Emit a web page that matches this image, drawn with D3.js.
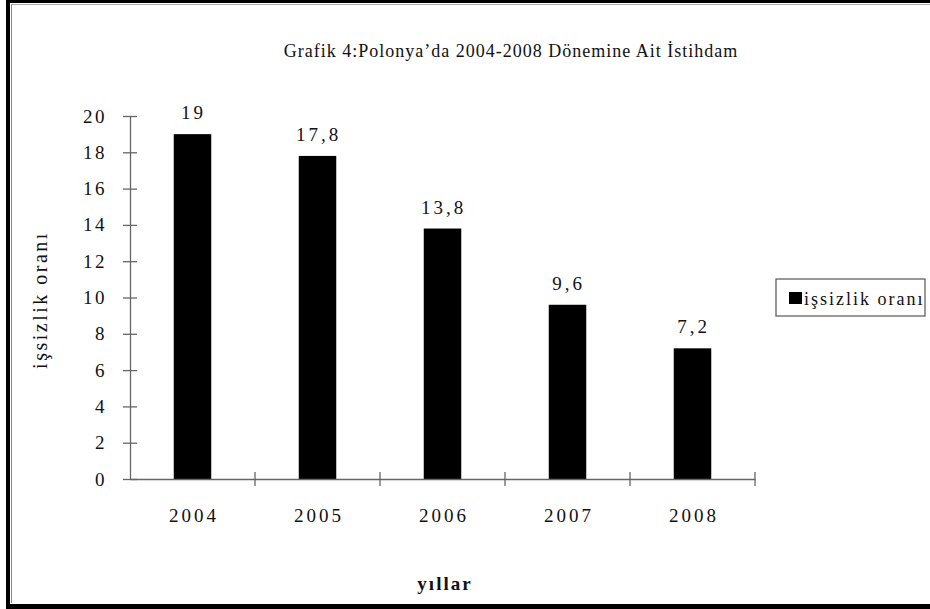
<!DOCTYPE html>
<html lang="tr">
  <head>
    <meta charset="UTF-8" />
    <title>Grafik 4</title>
    <script src="https://d3js.org/d3.v7.min.js"></script>
    <style>
      body { margin: 0; background: #fff; }
      svg text { font-family: "Liberation Serif", "DejaVu Serif", serif; fill: #111; }
      .axis path, .axis line { stroke: #666; stroke-width: 1.3; }
    </style>
  </head>
  <body>
    <svg id="chart" width="930" height="609"></svg>
    <script>
      // chart data
      var years = ["2004", "2005", "2006", "2007", "2008"];
      var rates = [19, 17.8, 13.8, 9.6, 7.2];
      var yTicks = [0, 2, 4, 6, 8, 10, 12, 14, 16, 18, 20];
      var title = "Grafik 4:Polonya\u2019da 2004-2008 Dönemine Ait İstihdam";
      var seriesName = "işsizlik oranı";
      var xTitle = "yıllar";

      var svg = d3.select("#chart");
      var margin = { left: 130, right: 175, top: 116, bottom: 130 };
      var width = 930 - margin.left - margin.right,
        height = 609 - margin.top - margin.bottom;

      // outer frame
      svg.append("rect").attr("x", 6).attr("y", 0).attr("width", 4).attr("height", 609).attr("fill", "#000");
      svg.append("rect").attr("x", 6).attr("y", 0).attr("width", 924).attr("height", 3).attr("fill", "#000");
      svg.append("rect").attr("x", 6).attr("y", 604).attr("width", 924).attr("height", 5).attr("fill", "#000");
      svg.append("line").attr("x1", 11.5).attr("x2", 11.5).attr("y1", 4).attr("y2", 603)
        .attr("stroke", "#888").attr("stroke-width", 1);
      svg.append("line").attr("x1", 11).attr("x2", 930).attr("y1", 4.5).attr("y2", 4.5)
        .attr("stroke", "#aaa").attr("stroke-width", 1);

      var g = svg.append("g").attr("transform", "translate(" + margin.left + "," + margin.top + ")");

      var x = d3.scaleBand().domain(years).range([0, width]).paddingInner(0.7).paddingOuter(0.35);
      var y = d3.scaleLinear().domain([0, 20]).range([height, 0]);

      // bars
      g.selectAll(".bar")
        .data(years)
        .enter()
        .append("rect")
        .attr("class", "bar")
        .attr("x", function (d) { return x(d); })
        .attr("y", function (d, i) { return y(rates[i]); })
        .attr("width", x.bandwidth())
        .attr("height", function (d, i) { return height - y(rates[i]); })
        .attr("fill", "#000");

      // value labels
      g.selectAll(".val")
        .data(years)
        .enter()
        .append("text")
        .attr("x", function (d) { return x(d) + x.bandwidth() / 2 + 1; })
        .attr("y", function (d, i) { return y(rates[i]) - 15; })
        .attr("text-anchor", "middle")
        .style("font-size", "19px")
        .style("letter-spacing", "3px")
        .text(function (d, i) { return String(rates[i]).replace(".", ","); });

      // y axis
      var yAxis = g.append("g")
        .attr("class", "axis")
        .call(d3.axisLeft(y).tickValues(yTicks).tickSize(7).tickSizeOuter(0).tickPadding(16));
      yAxis.selectAll(".tick line").attr("x1", -7).attr("x2", 7);
      yAxis.selectAll(".tick text")
        .style("font-size", "19px")
        .style("letter-spacing", "2.5px")
        .attr("fill", "#111");

      // x axis, ticks sit on the category boundaries
      var xAxis = g.append("g")
        .attr("class", "axis")
        .attr("transform", "translate(0," + height + ")")
        .call(d3.axisBottom(x).tickSize(0).tickPadding(30));
      xAxis.selectAll(".tick text")
        .attr("dx", 1.5)
        .style("font-size", "19px")
        .style("letter-spacing", "3px")
        .attr("fill", "#111");
      var bounds = d3.range(1, years.length + 1).map(function (i) { return i * x.step(); });
      xAxis.selectAll(".bound")
        .data(bounds)
        .enter()
        .append("line")
        .attr("x1", function (d) { return d; })
        .attr("x2", function (d) { return d; })
        .attr("y1", -7)
        .attr("y2", 7);

      // titles
      svg.append("text")
        .attr("x", 511)
        .attr("y", 57)
        .attr("text-anchor", "middle")
        .style("font-size", "18px")
        .style("letter-spacing", "1px")
        .text(title);

      svg.append("text")
        .attr("x", 445)
        .attr("y", 590)
        .attr("text-anchor", "middle")
        .style("font-size", "19px")
        .style("letter-spacing", "2px")
        .style("font-weight", "bold")
        .text(xTitle);

      svg.append("text")
        .attr("transform", "rotate(-90)")
        .attr("x", -300)
        .attr("y", 47)
        .attr("text-anchor", "middle")
        .style("font-size", "20px")
        .style("letter-spacing", "2.5px")
        .text(seriesName);

      // legend
      var legend = svg.append("g").attr("transform", "translate(776,279)");
      legend.append("rect")
        .attr("width", 149)
        .attr("height", 37)
        .attr("fill", "#fff")
        .attr("stroke", "#555")
        .attr("stroke-width", 1.2);
      legend.append("rect")
        .attr("x", 13)
        .attr("y", 13)
        .attr("width", 13)
        .attr("height", 12)
        .attr("fill", "#000");
      legend.append("text")
        .attr("x", 28)
        .attr("y", 26)
        .style("font-size", "18px")
        .style("letter-spacing", "2px")
        .text(seriesName);
    </script>
  </body>
</html>
